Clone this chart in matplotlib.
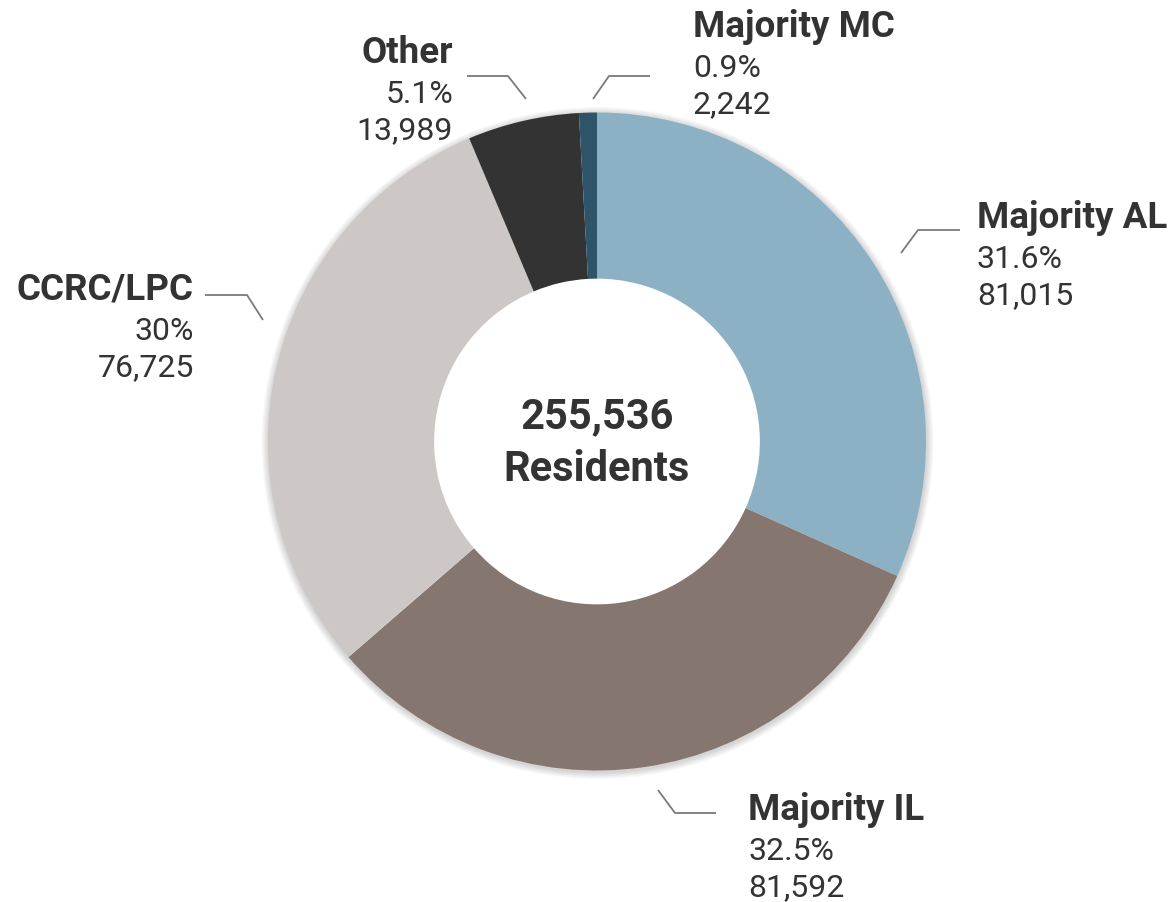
import matplotlib
matplotlib.use("Agg")
import matplotlib.pyplot as plt
from matplotlib.patches import Wedge

# ---- data ----
categories = ["Majority AL", "Majority IL", "CCRC/LPC", "Other", "Majority MC"]
residents = [81015, 81592, 76725, 13989, 2242]
pct_labels = ["31.6%", "32.5%", "30%", "5.1%", "0.9%"]
count_labels = ["81,015", "81,592", "76,725", "13,989", "2,242"]
total_label = "255,536"
center_caption = "Residents"

colors = ["#8DB1C4", "#857770", "#CDC8C5", "#333333", "#2D5468"]

W, H = 1173, 902
fig = plt.figure(figsize=(W / 100, H / 100), dpi=100)
ax = fig.add_axes([0, 0, 1, 1])

def Y(y):
    return H - y

cx, cy = 597, Y(441.5)
R = 329
ring = R * 0.505

# soft shadow (outer ring only)
for k in range(1, 8):
    ax.add_patch(Wedge((cx + 0.5, cy - 1.5), R + k, 0, 360, width=k + 4,
                       facecolor="black", alpha=0.022, edgecolor="none",
                       zorder=0))

ax.pie(residents, colors=colors, startangle=90, counterclock=False,
       radius=R, center=(cx, cy),
       wedgeprops=dict(width=ring, linewidth=0, zorder=2))

ax.set_xlim(0, W)
ax.set_ylim(0, H)
ax.set_aspect("equal")
ax.axis("off")

txt = "#333333"
fam = ["Roboto", "DejaVu Sans"]
fs_bold = 26.5
fs_reg = 23

# label anchors: (x, ha, bold baseline y in px)
anchors = {
    "Majority AL": (977, "left", 228),
    "Majority IL": (748, "left", 820),
    "CCRC/LPC": (194, "right", 300),
    "Other": (453, "right", 63),
    "Majority MC": (693, "left", 37),
}
leaders = {
    "Majority AL": [(901, 253), (918, 230), (960, 230)],
    "Majority IL": [(658, 790), (675, 813), (716, 813)],
    "CCRC/LPC": [(263, 320), (247, 295), (205, 295)],
    "Other": [(526, 99), (508, 76), (467, 76)],
    "Majority MC": [(593, 99), (609, 76), (650, 76)],
}

for i, cat in enumerate(categories):
    x, ha, yb = anchors[cat]
    ax.text(x, Y(yb), cat, ha=ha, va="baseline", fontsize=fs_bold,
            fontweight="bold", color=txt, family=fam)
    ax.text(x, Y(yb + 40), pct_labels[i], ha=ha, va="baseline",
            fontsize=fs_reg, color=txt, family=fam)
    ax.text(x, Y(yb + 76), count_labels[i], ha=ha, va="baseline",
            fontsize=fs_reg, color=txt, family=fam)
    pts = leaders[cat]
    ax.plot([p[0] for p in pts], [Y(p[1]) for p in pts], color="#7A7A7A",
            lw=1.3, solid_capstyle="butt", zorder=3)

ax.text(cx, Y(428), total_label, ha="center", va="baseline", fontsize=30,
        fontweight="bold", color=txt, family=fam, zorder=4)
ax.text(cx, Y(481), center_caption, ha="center", va="baseline", fontsize=30,
        fontweight="bold", color=txt, family=fam, zorder=4)

fig.savefig("out.png", dpi=100, facecolor="white")
